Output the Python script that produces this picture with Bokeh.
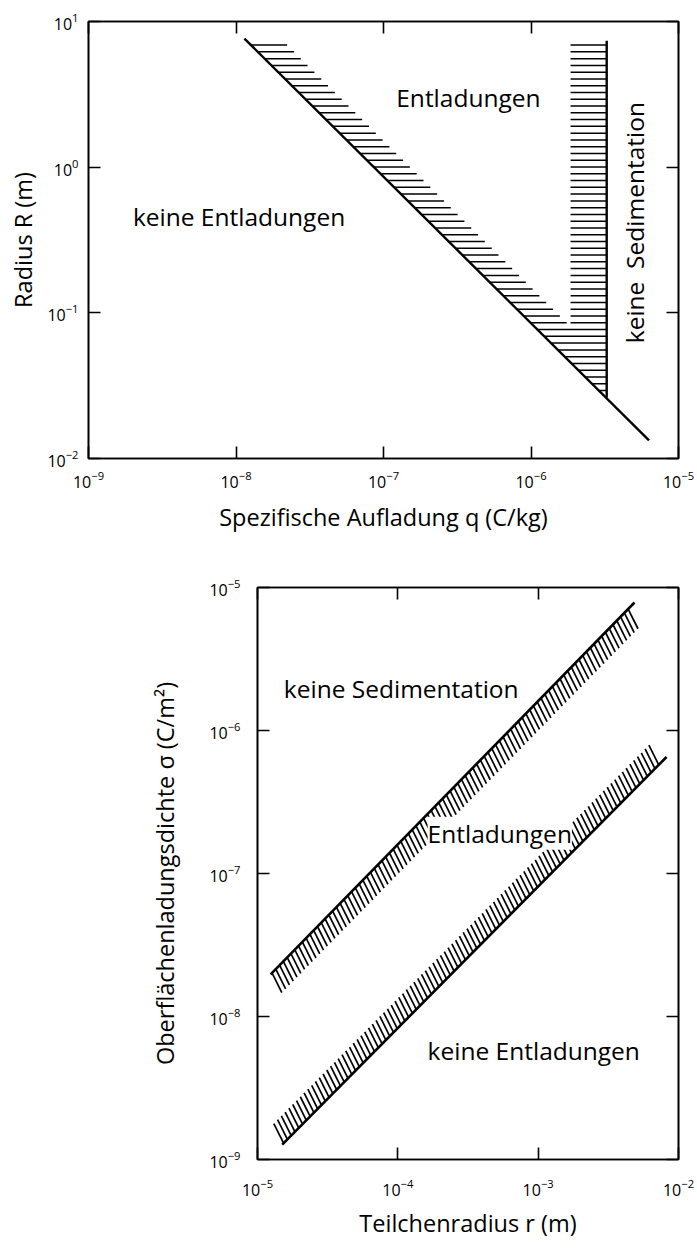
import numpy as np
from bokeh.plotting import figure
from bokeh.models import Range1d, LogAxis, FixedTicker, Label, CustomJSTickFormatter
from bokeh.embed import file_html
from bokeh.resources import INLINE

# ---------------- top chart data ----------------
q_ticks = [1e-9, 1e-8, 1e-7, 1e-6, 1e-5]
R_ticks = [1e-2, 1e-1, 1e0, 1e1]
discharge_q = [1.14e-8, 6.31e-6]      # discharge boundary (diagonal)
discharge_R = [7.64, 0.0133]
sediment_q = [3.26e-6, 3.26e-6]       # sedimentation boundary (vertical)
sediment_R = [7.38, 0.0262]

# ---------------- bottom chart data ----------------
r_ticks = [1e-5, 1e-4, 1e-3, 1e-2]
sigma_ticks = [1e-9, 1e-8, 1e-7, 1e-6, 1e-5]
sed_r = [1.24e-5, 4.86e-3]            # sedimentation boundary
sed_sigma = [1.97e-8, 7.85e-6]
dis_r = [1.50e-5, 8.22e-3]            # discharge boundary
dis_sigma = [1.27e-9, 6.53e-7]

FONT = "Open Sans"


def style_axis(ax, ticks, labels=True, standoff=10):
    ax.ticker = FixedTicker(ticks=ticks, minor_ticks=[])
    ax.major_tick_in = 12
    ax.major_tick_out = 0
    ax.major_tick_line_width = 1.6
    ax.major_tick_line_color = "black"
    ax.minor_tick_line_color = None
    ax.axis_line_color = "black"
    ax.axis_line_width = 1.6
    ax.major_label_text_font = FONT
    ax.major_label_text_font_size = "16px"
    ax.major_label_text_color = "black"
    ax.major_label_standoff = standoff
    ax.axis_label_text_font = FONT
    ax.axis_label_text_font_size = "23.5px"
    ax.axis_label_text_font_style = "normal"
    ax.axis_label_text_color = "black"
    if not labels:
        ax.formatter = CustomJSTickFormatter(code="return ''")
        ax.major_label_text_font_size = "0px"
        ax.major_label_standoff = 0


def base_fig(xr, yr, w, h, left, right, top, bottom):
    p = figure(x_axis_type="log", y_axis_type="log",
               x_range=Range1d(*xr), y_range=Range1d(*yr),
               width=w, height=h, output_backend="svg", toolbar_location=None,
               min_border_left=left, min_border_right=right,
               min_border_top=top, min_border_bottom=bottom)
    p.grid.visible = False
    p.outline_line_color = "black"
    p.outline_line_width = 1.6
    p.outline_line_alpha = 1.0
    p.background_fill_color = "white"
    p.border_fill_color = "white"
    return p


def lbl(p, x, y, text, angle=0, align="left", bg=False):
    kw = dict(x=x, y=y, text=text, text_font=FONT, text_font_size="24.5px",
              text_color="black", text_align=align, text_baseline="middle",
              angle=angle, angle_units="deg")
    if bg:
        kw.update(background_fill_color="white", background_fill_alpha=1.0)
    p.add_layout(Label(**kw))


# ================= TOP CHART =================
p1 = base_fig((1e-9, 1e-5), (1e-2, 1e1), 697, 548, 88, 19, 21, 90)
style_axis(p1.xaxis[0], q_ticks, standoff=12)
style_axis(p1.yaxis[0], R_ticks, standoff=10)
p1.xaxis[0].axis_label = "Spezifische Aufladung q (C/kg)"
p1.xaxis[0].axis_label_standoff = 10
p1.yaxis[0].axis_label = "Radius R (m)"
p1.yaxis[0].axis_label_standoff = 5
ax_r = LogAxis(); style_axis(ax_r, R_ticks, labels=False); p1.add_layout(ax_r, "right")
ax_t = LogAxis(); style_axis(ax_t, q_ticks, labels=False); p1.add_layout(ax_t, "above")

# hatching (horizontal strokes) derived from the two boundaries
lq = np.log10(discharge_q); lR = np.log10(discharge_R)
lqs = np.log10(sediment_q[0])
hw = 0.245
lR_vertex = lR[0] + (lqs - lq[0]) * (lR[1] - lR[0]) / (lq[1] - lq[0])
grid = np.arange(np.log10(sediment_R[0]) - 0.03, lR_vertex + 0.01, -0.0465)
x0s, x1s, ys = [], [], []
for g in grid:
    ld = lq[0] + (g - lR[0]) * (lq[1] - lq[0]) / (lR[1] - lR[0])
    if ld + hw >= lqs - hw:
        x0s.append(ld); x1s.append(lqs); ys.append(g)
    else:
        x0s.append(ld); x1s.append(ld + hw); ys.append(g)
        x0s.append(lqs - hw); x1s.append(lqs); ys.append(g)
x0s = 10 ** np.array(x0s); x1s = 10 ** np.array(x1s); ys = 10 ** np.array(ys)
p1.segment(x0=x0s, y0=ys, x1=x1s, y1=ys, line_color="black", line_width=1.5)
p1.line(discharge_q, discharge_R, line_color="black", line_width=2.4)
p1.line(sediment_q, sediment_R, line_color="black", line_width=2.4)

lbl(p1, 2.0e-9, 0.457, "keine Entladungen")
lbl(p1, 1.22e-7, 3.01, "Entladungen")
lbl(p1, 5.05e-6, 0.416, "keine\u00a0 Sedimentation", angle=90, align="center")

# ================= BOTTOM CHART =================
p2 = base_fig((1e-5, 1e-2), (1e-9, 1e-5), 697, 700, 257, 19, 39, 89)
style_axis(p2.xaxis[0], r_ticks, standoff=19)
style_axis(p2.yaxis[0], sigma_ticks, standoff=17)
p2.xaxis[0].axis_label = "Teilchenradius r (m)"
p2.xaxis[0].axis_label_standoff = 8
p2.yaxis[0].axis_label = "Oberflächenladungsdichte σ (C/m²)"
p2.yaxis[0].axis_label_standoff = 25
ax_r2 = LogAxis(); style_axis(ax_r2, sigma_ticks, labels=False); p2.add_layout(ax_r2, "right")
ax_t2 = LogAxis(); style_axis(ax_t2, r_ticks, labels=False); p2.add_layout(ax_t2, "above")


def band_hatch(rs, ss, sign):
    lr = np.log10(rs); ls = np.log10(ss)
    slope = (ls[1] - ls[0]) / (lr[1] - lr[0])
    g = np.arange(lr[0] + 0.01, lr[1] - 0.03, 0.027)
    s = ls[0] + (g - lr[0]) * slope
    return 10 ** g, 10 ** s, 10 ** (g + sign * 0.07), 10 ** (s - sign * 0.138)


for rs, ss, sg in ((sed_r, sed_sigma, 1), (dis_r, dis_sigma, -1)):
    a, b, c, d = band_hatch(rs, ss, sg)
    p2.segment(x0=a, y0=b, x1=c, y1=d, line_color="black", line_width=1.7)
p2.line(sed_r, sed_sigma, line_color="black", line_width=2.6)
p2.line(dis_r, dis_sigma, line_color="black", line_width=2.6)

lbl(p2, 1.54e-5, 1.98e-6, "keine Sedimentation")
lbl(p2, 1.63e-4, 1.91e-7, "Entladungen", bg=True)
lbl(p2, 1.63e-4, 5.81e-9, "keine Entladungen")

open("out.html", "w").write(file_html([p1, p2], INLINE))
